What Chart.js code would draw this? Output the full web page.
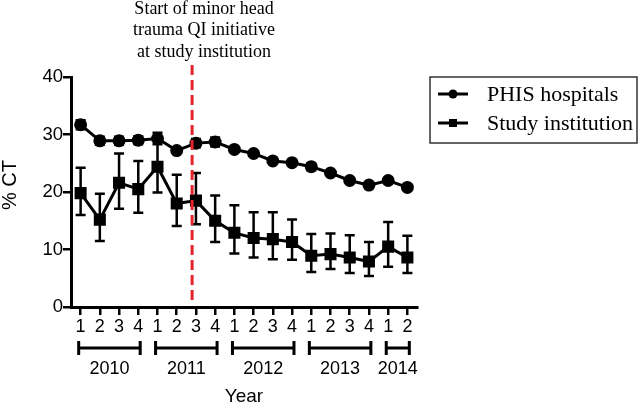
<!DOCTYPE html>
<html>
<head>
<meta charset="utf-8">
<script src="https://cdn.jsdelivr.net/npm/chart.js@4"></script>
<style>
  body { margin: 0; background: #fff; }
  #wrap { width: 640px; height: 404px; }
</style>
</head>
<body>
<div id="wrap"><canvas id="ctChart" width="640" height="404"></canvas></div>
<script>
// quarters along the x axis
const quarters = ['1','2','3','4','1','2','3','4','1','2','3','4','1','2','3','4','1','2'];
// years and the quarter index range each one covers
const years = ['2010', '2011', '2012', '2013', '2014'];
const yearFirst = [0, 4, 8, 12, 16];
const yearLast = [3, 7, 11, 15, 17];

// PHIS hospitals: % CT and error (+/-)
const phis = [31.7, 28.9, 28.9, 29.0, 29.3, 27.2, 28.5, 28.7, 27.4, 26.7, 25.4, 25.1, 24.4, 23.3, 22.0, 21.2, 22.0, 20.8];
const phisErr = [0.8, 0.7, 0.7, 0.7, 1.0, 0.3, 0.7, 0.8, 0.3, 0.3, 0.3, 0.3, 0.6, 0.3, 0.3, 0.3, 0.3, 0.3];

// Study institution: % CT with lower / upper bounds
const study = [19.8, 15.2, 21.6, 20.5, 24.4, 18.0, 18.5, 15.0, 12.9, 12.0, 11.8, 11.3, 8.9, 9.2, 8.6, 7.9, 10.5, 8.6];
const studyLow = [16.0, 11.5, 17.1, 16.4, 19.9, 14.1, 14.4, 11.3, 9.3, 8.6, 8.3, 8.2, 6.1, 6.6, 5.9, 5.4, 7.0, 5.9];
const studyHigh = [24.2, 19.7, 26.7, 25.4, 29.3, 23.0, 23.3, 19.4, 17.7, 16.5, 16.5, 15.2, 12.7, 12.8, 12.5, 11.3, 14.8, 12.4];

// y axis ticks and where the QI initiative starts (position on the quarter axis)
const yTicks = [0, 10, 20, 30, 40];
const initiativeAt = 5.8;
const initiativeText = ['Start of minor head', 'trauma QI initiative', 'at study institution'];

const SANS = '"Liberation Sans", Arial, sans-serif';
const SERIF = '"Liberation Serif", "Times New Roman", serif';

// error bars, drawn under the lines
const errorBars = {
  id: 'errorBars',
  beforeDatasetsDraw(chart) {
    const ctx = chart.ctx, xs = chart.scales.x, ys = chart.scales.y;
    ctx.save();
    ctx.strokeStyle = '#000';
    ctx.lineWidth = 2.5;
    chart.data.datasets.forEach(ds => {
      ds.data.forEach((v, i) => {
        const px = xs.getPixelForValue(i);
        const top = ys.getPixelForValue(ds.high[i]);
        const bot = ys.getPixelForValue(ds.low[i]);
        ctx.beginPath();
        ctx.moveTo(px, top); ctx.lineTo(px, bot);
        ctx.moveTo(px - 5, top); ctx.lineTo(px + 5, top);
        ctx.moveTo(px - 5, bot); ctx.lineTo(px + 5, bot);
        ctx.stroke();
      });
    });
    ctx.restore();
  }
};

// year brackets, labels, the initiative marker and the legend box
const extras = {
  id: 'extras',
  afterDraw(chart) {
    const ctx = chart.ctx, xs = chart.scales.x, ys = chart.scales.y;
    const area = chart.chartArea;
    ctx.save();

    // y axis title
    ctx.fillStyle = '#000';
    ctx.font = '20px ' + SANS;
    ctx.textAlign = 'center';
    ctx.textBaseline = 'middle';
    ctx.save();
    ctx.translate(10, area.top + 108);
    ctx.rotate(-Math.PI / 2);
    ctx.fillText('% CT', 0, 0);
    ctx.restore();

    // year brackets under the quarter labels
    const by = area.bottom + 41;
    ctx.strokeStyle = '#000';
    ctx.lineWidth = 3;
    ctx.font = '18px ' + SANS;
    years.forEach((yr, k) => {
      const x0 = xs.getPixelForValue(yearFirst[k] - 0.1);
      const x1 = xs.getPixelForValue(yearLast[k] + 0.1);
      ctx.beginPath();
      ctx.moveTo(x0, by); ctx.lineTo(x1, by);
      ctx.moveTo(x0, by - 7); ctx.lineTo(x0, by + 7);
      ctx.moveTo(x1, by - 7); ctx.lineTo(x1, by + 7);
      ctx.stroke();
      ctx.fillText(yr, (x0 + x1) / 2, area.bottom + 62);
    });
    ctx.font = '19px ' + SANS;
    ctx.fillText('Year', (area.left + area.right) / 2, area.bottom + 90);

    // dashed red line for the QI initiative
    const lx = xs.getPixelForValue(initiativeAt);
    ctx.strokeStyle = '#e3242b';
    ctx.lineWidth = 3;
    ctx.setLineDash([10, 5]);
    ctx.beginPath();
    ctx.moveTo(lx, area.top - 12);
    ctx.lineTo(lx, area.bottom - 2);
    ctx.stroke();
    ctx.setLineDash([]);

    ctx.fillStyle = '#000';
    ctx.font = '18px ' + SERIF;
    initiativeText.forEach((t, i) => {
      ctx.fillText(t, lx + 12, 9 + i * 21.7);
    });

    // legend
    ctx.strokeStyle = '#333';
    ctx.lineWidth = 1.5;
    ctx.strokeRect(430, 77, 207, 66);
    ctx.font = '22px ' + SERIF;
    ctx.textAlign = 'left';
    chart.data.datasets.forEach((ds, i) => {
      const cy = 94 + i * 29;
      ctx.strokeStyle = '#000';
      ctx.lineWidth = 3;
      ctx.beginPath();
      ctx.moveTo(438, cy); ctx.lineTo(468, cy);
      ctx.stroke();
      ctx.fillStyle = '#000';
      if (ds.pointStyle === 'circle') {
        ctx.beginPath();
        ctx.arc(453, cy, 4.5, 0, Math.PI * 2);
        ctx.fill();
      } else {
        ctx.fillRect(449, cy - 4, 8, 8);
      }
      ctx.fillText(ds.label, 487, cy + 1);
    });

    ctx.restore();
  }
};

new Chart(document.getElementById('ctChart'), {
  type: 'line',
  data: {
    labels: quarters,
    datasets: [
      {
        label: 'PHIS hospitals',
        data: phis,
        low: phis.map((v, i) => v - phisErr[i]),
        high: phis.map((v, i) => v + phisErr[i]),
        borderColor: '#000',
        backgroundColor: '#000',
        borderWidth: 3,
        pointStyle: 'circle',
        pointRadius: 5,
        tension: 0
      },
      {
        label: 'Study institution',
        data: study,
        low: studyLow,
        high: studyHigh,
        borderColor: '#000',
        backgroundColor: '#000',
        borderWidth: 3,
        pointStyle: 'rect',
        pointRadius: 6.4,
        tension: 0
      }
    ]
  },
  options: {
    responsive: false,
    animation: false,
    layout: { padding: { top: 77, right: 223, left: 0, bottom: 0 } },
    plugins: {
      legend: { display: false },
      tooltip: { enabled: false }
    },
    scales: {
      x: {
        type: 'category',
        offset: true,
        grid: { drawOnChartArea: false, offset: false, color: '#000', lineWidth: 2.5, tickLength: 8 },
        border: { color: '#000', width: 3 },
        ticks: { color: '#000', font: { family: SANS, size: 18 }, padding: 1, maxRotation: 0, autoSkip: false },
        afterFit(scale) { scale.height = 97; }
      },
      y: {
        min: 0,
        max: 40,
        afterBuildTicks(scale) { scale.ticks = yTicks.map(v => ({ value: v })); },
        grid: { drawOnChartArea: false, color: '#000', lineWidth: 2.5, tickLength: 8 },
        border: { color: '#000', width: 3 },
        ticks: { color: '#000', font: { family: SANS, size: 18.5 }, padding: 0 },
        afterFit(scale) { scale.width = 71; }
      }
    }
  },
  plugins: [errorBars, extras]
});
</script>
</body>
</html>
